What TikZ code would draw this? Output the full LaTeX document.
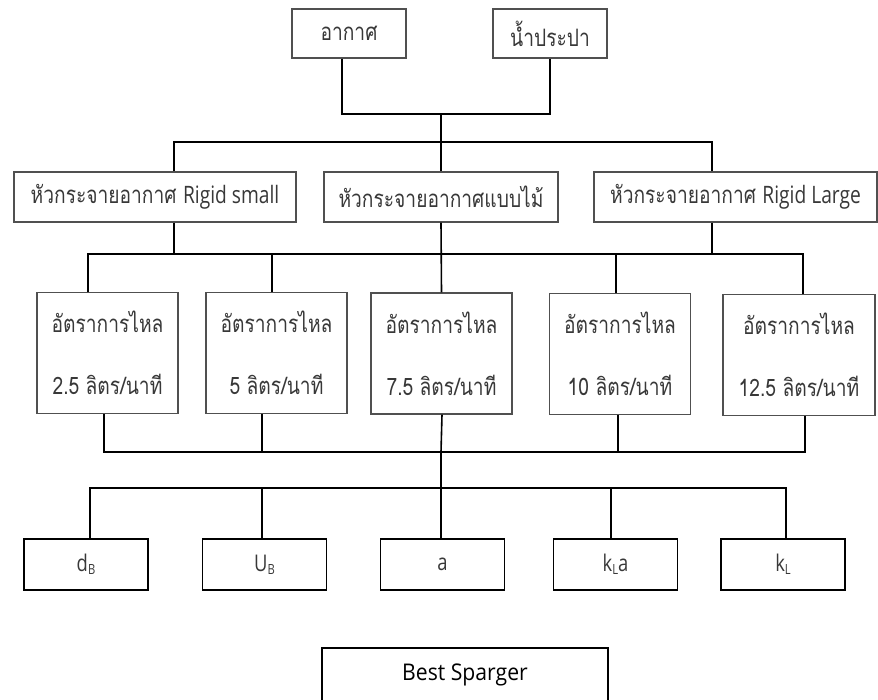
\documentclass[tikz,border=0pt]{standalone}
\usepackage{fontspec}
\usepackage{graphicx}
\setmainfont{Loma}[Script=Thai]
\newfontfamily\latinfont{Open Sans}
\usetikzlibrary{calc}
\definecolor{boxgray}{HTML}{505050}
\definecolor{txtgray}{HTML}{383838}
% narrow setting of a label
\newcommand{\nar}[1]{\scalebox{0.8}[1]{#1}}
\newcommand{\lat}[1]{{\latinfont #1}}
\newcommand{\subsc}[1]{{\fontsize{14}{14}\selectfont\raisebox{-0.45ex}{#1}}}
\begin{document}
\begin{tikzpicture}[x=1pt,y=1pt,
  box/.style={draw=boxgray,line width=1.2pt,rectangle,inner sep=0pt,
    text=txtgray,font=\fontsize{24}{28}\selectfont,align=center},
  flowbox/.style={box,minimum width=141,minimum height=121},
  parbox/.style={draw=black,line width=1.6pt,rectangle,inner sep=0pt,
    minimum width=124,minimum height=51,text=txtgray,
    font=\latinfont\fontsize{23}{27}\selectfont},
  link/.style={draw=black,line width=1.6pt}]
\useasboundingbox (0,0) rectangle (878,-699);
\clip (0,0) rectangle (878,-699);

% sources
\node[box,minimum width=114,minimum height=49] (air) at (349,-33.5) {\nar{อากาศ}};
\node[box,minimum width=114,minimum height=49] (tap) at (550,-33.5) {\nar{น้ำประปา}};

% sparger types
\node[box,minimum width=282,minimum height=50] (rs) at (155,-197) {\nar{หัวกระจายอากาศ \lat{Rigid small}}};
\node[box,minimum width=234,minimum height=50] (wd) at (441,-197) {\nar{หัวกระจายอากาศแบบไม้}};
\node[box,minimum width=283,minimum height=50] (rl) at (735.5,-197) {\nar{หัวกระจายอากาศ \lat{Rigid Large}}};

% flow rates
\node[flowbox] (f1) at (107.5,-353) {\nar{อัตราการไหล}\\[34pt]\nar{2.5 ลิตร/นาที}};
\node[flowbox] (f2) at (276.5,-353) {\nar{อัตราการไหล}\\[34pt]\nar{5 ลิตร/นาที}};
\node[flowbox] (f3) at (441.5,-353.5) {\nar{อัตราการไหล}\\[34pt]\nar{7.5 ลิตร/นาที}};
\node[flowbox] (f4) at (620,-354) {\nar{อัตราการไหล}\\[34pt]\nar{10 ลิตร/นาที}};
\node[flowbox,minimum width=152] (f5) at (799,-355) {\nar{อัตราการไหล}\\[34pt]\nar{12.5 ลิตร/นาที}};

% measured parameters
\node[parbox] (db) at (86,-564.5) {\nar{d\subsc{B}}};
\node[parbox] (ub) at (264.5,-564.5) {\nar{U\subsc{B}}};
\node[parbox] (pa) at (442.5,-564.5) {\nar{a}};
\node[parbox] (kla) at (615.5,-564.5) {\nar{k\subsc{L}a}};
\node[parbox] (kl) at (783,-564.5) {\nar{k\subsc{L}}};

% result
\node[draw=black,line width=1.6pt,minimum width=286,minimum height=54,inner sep=0pt,
  font=\latinfont\fontsize{23}{27}\selectfont,text=black] (best) at (465,-675) {\scalebox{0.92}[1]{Best Sparger}};

% junction points
\coordinate (j1) at (441,-114);
\coordinate (j2) at (441,-142);
\coordinate (j3) at (441,-254);
\coordinate (j4) at (441,-452);
\coordinate (j5) at (441,-488);

% sources -> sparger types
\draw[link] ([xshift=-7]air.south) |- (j1) -| (tap.south);
\draw[link] (j1) -- (wd.north);
\draw[link] ([xshift=19]rs.north) |- (j2) -| ([xshift=-23.5]rl.north);

% sparger types -> flow rates
\draw[link] ([xshift=19]rs.south) |- (j3);
\draw[link] ([xshift=-23.5]rl.south) |- (j3);
\draw[link] ([xshift=-19.5]f1.north) |- (j3) -| ([xshift=4]f5.north);
\draw[link] ([xshift=-4.5]f2.north) -- ++(0,39);
\draw[link] (wd.south) -- (f3.north);
\draw[link] ([xshift=-4]f4.north) -- ++(0,40);

% flow rates -> parameters
\draw[link] ([xshift=-3.5]f1.south) |- (j4) -| ([xshift=6]f5.south);
\draw[link] ([xshift=-14.5]f2.south) -- ++(0,-38.5);
\draw[link] ([xshift=0.5]f3.south) -- (j4);
\draw[link] ([xshift=-2]f4.south) -- ++(0,-37.5);
\draw[link] (j4) -- (pa.north -| j4);
\draw[link] ([xshift=4]db.north) |- (j5) -| ([xshift=3]kl.north);
\draw[link] ([xshift=-2.5]ub.north) -- ++(0,51);
\draw[link] ([xshift=-4.5]kla.north) -- ++(0,51);
\end{tikzpicture}
\end{document}
